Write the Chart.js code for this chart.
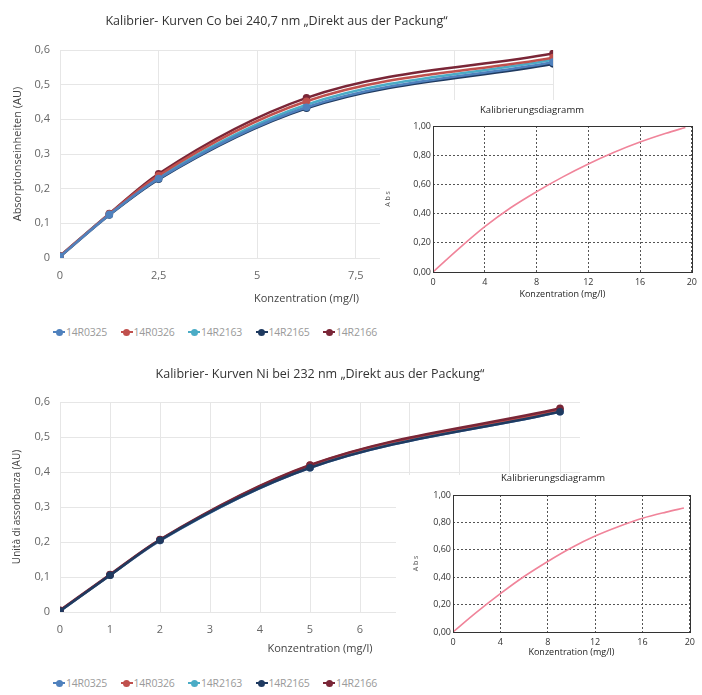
<!DOCTYPE html>
<html>
<head>
<meta charset="utf-8">
<script src="https://cdn.jsdelivr.net/npm/chart.js@4/dist/chart.umd.min.js"></script>
<style>
  html,body{margin:0;padding:0;background:#fff;}
  body{width:702px;height:695px;position:relative;overflow:hidden;font-family:"Open Sans",sans-serif;}
  .abs{position:absolute;}
  .leg{position:absolute;display:flex;align-items:center;height:14px;}
  .item{display:inline-flex;align-items:center;width:67.5px;}
  .sym{position:relative;width:12px;height:2.5px;margin-right:1px;}
  .dot{position:absolute;left:2.75px;top:-2.25px;width:7px;height:7px;border-radius:50%;}
  .txt{font:10.5px "Open Sans",sans-serif;color:#9a9a9a;letter-spacing:-0.2px;}
  .white{position:absolute;background:#fff;}
</style>
</head>
<body>
<div class="abs" style="left:0;top:0;"><canvas id="coMain" width="575" height="308"></canvas></div>
<div class="leg" id="coLegend" style="left:53px;top:325px;"></div>
<div class="white" style="left:380px;top:100px;width:322px;height:205px;"></div>
<div class="abs" style="left:371px;top:100px;"><canvas id="coInset" width="331" height="203"></canvas></div>

<div class="abs" style="left:0;top:350px;"><canvas id="niMain" width="600" height="308"></canvas></div>
<div class="leg" id="niLegend" style="left:53px;top:676px;"></div>
<div class="white" style="left:396px;top:475px;width:306px;height:190px;"></div>
<div class="abs" style="left:411px;top:468px;"><canvas id="niInset" width="289" height="193"></canvas></div>

<script>
// ---------- DATA ----------
const seriesNames = ['14R0325', '14R0326', '14R2163', '14R2165', '14R2166'];
const seriesColors = ['#4f81bd', '#c0504d', '#4bacc6', '#1f3a60', '#7a2637'];

// Co @ 240,7 nm
const coX = [0, 1.25, 2.5, 6.25, 12.5];
const co14R0325 = [0.004, 0.125, 0.229, 0.435, 0.565];
const co14R0326 = [0.005, 0.127, 0.238, 0.452, 0.578];
const co14R2163 = [0.005, 0.126, 0.232, 0.442, 0.572];
const co14R2165 = [0.004, 0.124, 0.227, 0.432, 0.560];
const co14R2166 = [0.006, 0.128, 0.243, 0.462, 0.590];
const coXTicks = ['0', '2,5', '5', '7,5', '10', '12,5'];
const mainYTicks = ['0', '0,1', '0,2', '0,3', '0,4', '0,5', '0,6'];

// Ni @ 232 nm
const niX = [0, 1, 2, 5, 10];
const ni14R0325 = [0.003, 0.105, 0.204, 0.412, 0.572];
const ni14R0326 = [0.004, 0.106, 0.206, 0.419, 0.578];
const ni14R2163 = [0.003, 0.105, 0.205, 0.414, 0.575];
const ni14R2165 = [0.003, 0.105, 0.205, 0.412, 0.572];
const ni14R2166 = [0.005, 0.107, 0.207, 0.420, 0.582];
const niXTicks = ['0', '1', '2', '3', '4', '5', '6', '7', '8', '9', '10'];

// Insets "Kalibrierungsdiagramm"
const insetX = [0, 2, 4, 6, 8, 10, 12, 14, 16, 18, 19.5];
const coInsetY = [0, 0.16, 0.31, 0.44, 0.55, 0.65, 0.74, 0.82, 0.89, 0.95, 0.99];
const niInsetY = [0, 0.145, 0.28, 0.405, 0.515, 0.615, 0.70, 0.77, 0.83, 0.875, 0.905];
const insetXTicks = ['0', '4', '8', '12', '16', '20'];
const insetYTicks = ['0,00', '0,20', '0,40', '0,60', '0,80', '1,00'];

const coTitle = 'Kalibrier- Kurven Co bei 240,7 nm „Direkt aus der Packung“';
const niTitle = 'Kalibrier- Kurven Ni bei 232 nm „Direkt aus der Packung“';

// ---------- HELPERS ----------
const FONT = '"Open Sans", sans-serif';
const pts = (xs, ys) => xs.map((x, i) => ({x: x, y: ys[i]}));

function mainDatasets(xs, arrs, orders) {
  return arrs.map((ys, i) => ({
    label: seriesNames[i],
    data: pts(xs, ys),
    borderColor: seriesColors[i],
    backgroundColor: seriesColors[i],
    pointBackgroundColor: seriesColors[i],
    pointBorderColor: seriesColors[i],
    borderWidth: 2.5,
    pointRadius: 3.8,
    pointBorderWidth: 0,
    cubicInterpolationMode: 'monotone',
    order: orders ? orders[i] : i
  }));
}

function buildLegend(id) {
  const el = document.getElementById(id);
  seriesNames.forEach((n, i) => {
    const it = document.createElement('span');
    it.className = 'item';
    const sym = document.createElement('span');
    sym.className = 'sym';
    sym.style.background = seriesColors[i];
    const dot = document.createElement('span');
    dot.className = 'dot';
    dot.style.background = seriesColors[i];
    sym.appendChild(dot);
    const t = document.createElement('span');
    t.className = 'txt';
    t.textContent = n;
    it.appendChild(sym);
    it.appendChild(t);
    el.appendChild(it);
  });
}

const framePlugin = {
  id: 'frame',
  afterDraw(chart, args, opts) {
    if (!opts || !opts.enabled) return;
    const {ctx, chartArea: a} = chart;
    ctx.save();
    ctx.strokeStyle = '#333';
    ctx.lineWidth = 1;
    ctx.strokeRect(Math.round(a.left) + 0.5, Math.round(a.top) + 0.5,
                   Math.round(a.right - a.left), Math.round(a.bottom - a.top));
    ctx.restore();
  }
};
Chart.register(framePlugin);

function mainConfig(opts) {
  return {
    type: 'line',
    data: {datasets: opts.datasets},
    options: {
      responsive: false,
      animation: false,
      devicePixelRatio: 1,
      layout: {padding: {left: 0, right: opts.padRight, top: 0, bottom: 0}},
      plugins: {
        legend: {display: false},
        tooltip: {enabled: false},
        frame: {enabled: false},
        title: {
          display: true, text: opts.title, fullSize: opts.titleFull,
          color: '#333', font: {family: FONT, size: 12.5, weight: 'normal'},
          padding: {top: opts.titleTop, bottom: opts.titleBottom}
        }
      },
      scales: {
        x: {
          type: 'linear', min: 0, max: opts.xMax,
          ticks: {stepSize: opts.xStep, includeBounds: false, padding: 11, color: '#666',
                  font: {family: FONT, size: 11}, maxRotation: 0, autoSkip: false,
                  callback: (v, i) => opts.xTicks[i]},
          grid: {color: '#e6e6e6', drawTicks: false, lineWidth: 1},
          border: {display: false},
          title: {display: true, text: 'Konzentration (mg/l)', color: '#444',
                  font: {family: FONT, size: 11}, padding: {top: 0, bottom: 3}},
          afterFit: s => { s.height = opts.xHeight; }
        },
        y: {
          min: 0, max: 0.6,
          ticks: {stepSize: 0.1, padding: 10, color: '#666', font: {family: FONT, size: 11},
                  callback: (v, i) => mainYTicks[i]},
          grid: {color: '#e6e6e6', drawTicks: false, lineWidth: 1},
          border: {display: false},
          title: {display: true, text: opts.yTitle, color: '#444',
                  font: {family: FONT, size: opts.yTitleSize}, padding: {top: 11, bottom: 0}},
          afterFit: s => { s.width = 60; }
        }
      }
    }
  };
}

function insetConfig(opts) {
  return {
    type: 'line',
    data: {datasets: [{
      label: 'Kalibrierung',
      data: pts(insetX, opts.ys),
      borderColor: '#f0849a',
      borderWidth: 1.6,
      pointRadius: 0,
      cubicInterpolationMode: 'monotone'
    }]},
    options: {
      responsive: false,
      animation: false,
      devicePixelRatio: 1,
      layout: {padding: {left: 0, right: opts.padRight, top: 0, bottom: 0}},
      plugins: {
        legend: {display: false},
        tooltip: {enabled: false},
        frame: {enabled: true},
        title: {
          display: true, text: 'Kalibrierungsdiagramm', fullSize: true,
          color: '#222', font: {family: FONT, size: 9.5, weight: 'normal'},
          padding: {top: 5, bottom: opts.titleBottom}
        }
      },
      scales: {
        x: {
          type: 'linear', min: 0, max: 20,
          ticks: {stepSize: 4, padding: 5, color: '#333', font: {family: FONT, size: 9},
                  maxRotation: 0, autoSkip: false, callback: (v, i) => insetXTicks[i]},
          grid: {color: '#555', drawTicks: false, lineWidth: 1},
          border: {display: false, dash: [2, 2]},
          title: {display: true, text: 'Konzentration (mg/l)', color: '#222',
                  font: {family: FONT, size: 9}, padding: {top: 0, bottom: 3}},
          afterFit: s => { s.height = opts.xHeight; }
        },
        y: {
          min: 0, max: 1,
          ticks: {stepSize: 0.2, padding: 2, color: '#333', font: {family: FONT, size: 9},
                  callback: (v, i) => insetYTicks[i]},
          grid: {color: '#555', drawTicks: false, lineWidth: 1},
          border: {display: false, dash: [2, 2]},
          title: {display: true, text: 'A b s', color: '#555',
                  font: {family: FONT, size: 7}, padding: {top: opts.yTitlePad, bottom: 0}},
          afterFit: s => { s.width = opts.yWidth; }
        }
      }
    }
  };
}

// ---------- CHARTS ----------
new Chart(document.getElementById('coMain'), mainConfig({
  datasets: mainDatasets(coX, [co14R0325, co14R0326, co14R2163, co14R2165, co14R2166]),
  title: coTitle, titleFull: true, titleTop: 14, titleBottom: 21,
  padRight: 22, xMax: 12.5, xStep: 2.5, xTicks: coXTicks, xHeight: 50,
  yTitle: 'Absorptionseinheiten (AU)', yTitleSize: 11
}));

new Chart(document.getElementById('niMain'), mainConfig({
  datasets: mainDatasets(niX, [ni14R0325, ni14R0326, ni14R2163, ni14R2165, ni14R2166], [4, 2, 3, 0, 1]),
  title: niTitle, titleFull: false, titleTop: 17, titleBottom: 20,
  padRight: 20, xMax: 10.4, xStep: 1, xTicks: niXTicks, xHeight: 46,
  yTitle: 'Unità di assorbanza (AU)', yTitleSize: 10
}));

new Chart(document.getElementById('coInset'), insetConfig({
  ys: coInsetY, padRight: 9, titleBottom: 9.6, xHeight: 31, yWidth: 62, yTitlePad: 13
}));

new Chart(document.getElementById('niInset'), insetConfig({
  ys: niInsetY, padRight: 5, titleBottom: 10.6, xHeight: 29, yWidth: 42, yTitlePad: 1
}));

buildLegend('coLegend');
buildLegend('niLegend');
</script>
</body>
</html>
